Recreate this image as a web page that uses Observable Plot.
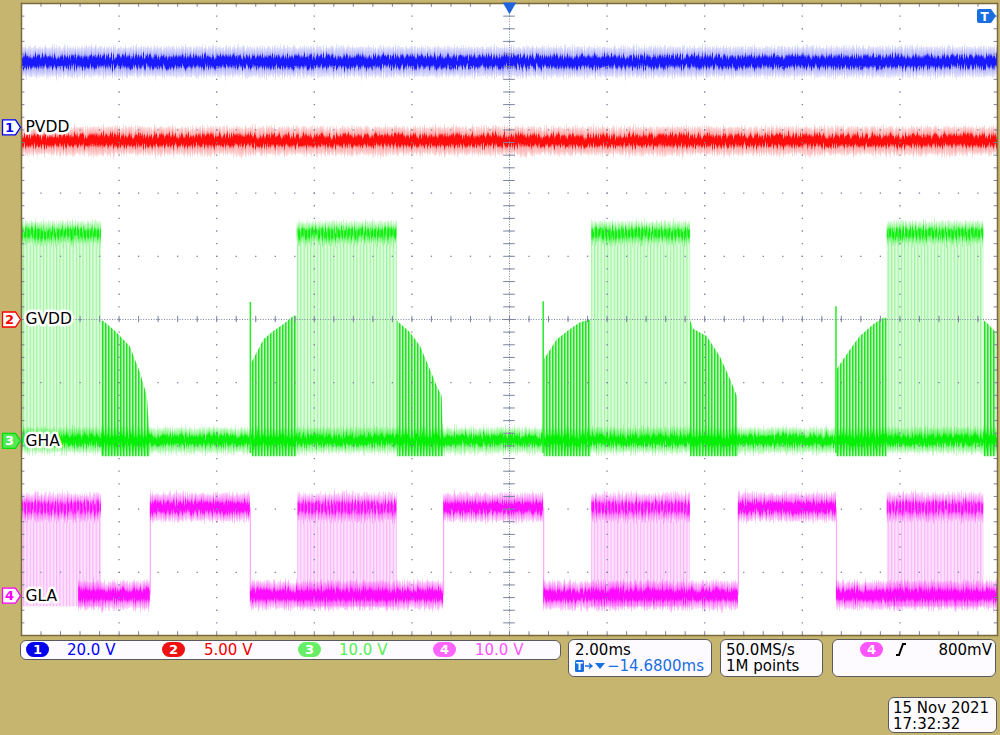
<!DOCTYPE html>
<html><head><meta charset="utf-8">
<script src="https://cdn.jsdelivr.net/npm/d3@7"></script>
<script src="https://cdn.jsdelivr.net/npm/@observablehq/plot@0.6"></script>
<style>
body{margin:0;background:#c6b56f;width:1000px;height:735px;overflow:hidden;font-family:"DejaVu Sans",sans-serif;position:relative}
#chart{position:absolute;left:0;top:0}
.box{position:absolute;background:#fdfbff;border:1px solid #5a5a5a;border-radius:6px;box-sizing:border-box}
.t{position:absolute;font-size:15px;line-height:16px;white-space:nowrap;color:#000}
.oval{position:absolute;width:23px;height:15px;border-radius:8px;color:#fff;font-weight:bold;font-size:13px;text-align:center;line-height:15px}
</style></head>
<body>
<svg width="0" height="0" style="position:absolute">
<defs>
  <linearGradient id="gBlue" x1="0" y1="0" x2="0" y2="1">
    <stop offset="0" stop-color="#0000ff" stop-opacity="0.08"/>
    <stop offset="0.25" stop-color="#0000ff" stop-opacity="0.3"/>
    <stop offset="0.36" stop-color="#0000ff" stop-opacity="0.9"/>
    <stop offset="0.64" stop-color="#0000ff" stop-opacity="0.9"/>
    <stop offset="0.75" stop-color="#0000ff" stop-opacity="0.3"/>
    <stop offset="1" stop-color="#0000ff" stop-opacity="0.08"/>
  </linearGradient>
  <linearGradient id="gRed" x1="0" y1="0" x2="0" y2="1">
    <stop offset="0" stop-color="#ff0000" stop-opacity="0.1"/>
    <stop offset="0.25" stop-color="#ff0000" stop-opacity="0.35"/>
    <stop offset="0.36" stop-color="#ff0000" stop-opacity="0.95"/>
    <stop offset="0.64" stop-color="#ff0000" stop-opacity="0.95"/>
    <stop offset="0.75" stop-color="#ff0000" stop-opacity="0.35"/>
    <stop offset="1" stop-color="#ff0000" stop-opacity="0.1"/>
  </linearGradient>
  <linearGradient id="gGreen" x1="0" y1="0" x2="0" y2="1">
    <stop offset="0" stop-color="#00ee00" stop-opacity="0.12"/>
    <stop offset="0.25" stop-color="#00ee00" stop-opacity="0.5"/>
    <stop offset="0.36" stop-color="#00ee00" stop-opacity="0.95"/>
    <stop offset="0.64" stop-color="#00ee00" stop-opacity="0.95"/>
    <stop offset="0.75" stop-color="#00ee00" stop-opacity="0.5"/>
    <stop offset="1" stop-color="#00ee00" stop-opacity="0.12"/>
  </linearGradient>
  <linearGradient id="gMag" x1="0" y1="0" x2="0" y2="1">
    <stop offset="0" stop-color="#ff00ff" stop-opacity="0.12"/>
    <stop offset="0.25" stop-color="#ff00ff" stop-opacity="0.5"/>
    <stop offset="0.36" stop-color="#ff00ff" stop-opacity="0.95"/>
    <stop offset="0.64" stop-color="#ff00ff" stop-opacity="0.95"/>
    <stop offset="0.75" stop-color="#ff00ff" stop-opacity="0.5"/>
    <stop offset="1" stop-color="#ff00ff" stop-opacity="0.12"/>
  </linearGradient>
  <pattern id="pGreen" width="3.3" height="10" patternUnits="userSpaceOnUse">
    <rect width="3.3" height="10" fill="#dafcda"/>
    <rect width="1.1" height="10" fill="#9cf49c"/>
  </pattern>
  <pattern id="pGreenDense" width="3" height="10" patternUnits="userSpaceOnUse">
    <rect width="3" height="10" fill="#c4f7c4"/>
    <rect width="1.5" height="10" fill="#20e420"/>
  </pattern>
  <pattern id="pMag" width="3.3" height="10" patternUnits="userSpaceOnUse">
    <rect width="3.3" height="10" fill="#fde2fd"/>
    <rect width="1.1" height="10" fill="#fbb2fb"/>
  </pattern>
  <pattern id="pWhite" width="3.3" height="10" patternUnits="userSpaceOnUse">
    <rect width="1" height="10" fill="#ffffff" fill-opacity="0.4"/>
  </pattern>
  <filter id="fuzz" filterUnits="userSpaceOnUse" x="0" y="0" width="1000" height="640" color-interpolation-filters="sRGB">
    <feTurbulence type="fractalNoise" baseFrequency="0.9 0.04" numOctaves="2" seed="4" result="t"/>
    <feColorMatrix in="t" type="matrix" values="1 0 0 0 0  0 0 0 0 0  0 0 0 0 0.5  0 0 0 0 1" result="t2"/>
    <feDisplacementMap in="SourceGraphic" in2="t2" scale="12" xChannelSelector="B" yChannelSelector="R"/>
  </filter>
</defs>
</svg>
<div id="chart"></div>
<script>
// ---------------- scope settings ----------------
const chNames = ["1", "2", "3", "4"];
const chLabels = ["PVDD", "GVDD", "GHA", "GLA"];
const chVoltsPerDiv = [20, 5, 10, 10];
const chOffsetDiv = [3.04, 0, -1.92, -4.37];
const screenMs = [0, 20];           // 10 div x 2.00 ms

// ---------------- series values (V, ms) ----------------
const pvddLevel = 20.6, pvddNoise = 4.7;
const gvddLevel = 14.1, gvddNoise = 1.1;
const ghaHigh = 32.8, ghaLow = 0, ghaNoise = 2.0;
const glaHigh = 13.9, glaLow = 0, glaNoise = 2.2;

const ghaBurstStart = [0, 5.65, 11.68, 17.74];
const ghaBurstEnd   = [1.64, 7.70, 13.71, 19.72];
const ghaSpikeT = [4.69, 10.69, 16.69];
const ghaSpikeV = [21.9, 22.0, 21.2];
const ghaDecayT = [
  [1.64, 1.69, 1.93, 2.23, 2.44, 2.58, 2.64],
  [7.70, 7.77, 7.97, 8.18, 8.38, 8.52, 8.62, 8.65],
  [13.71, 13.78, 14.05, 14.32, 14.53, 14.67, 14.69],
  [19.72, 19.79, 19.98]
];
const ghaDecayV = [
  [19.0, 18.9, 17.3, 14.9, 10.7, 7.0, 0],
  [19.0, 18.5, 17.1, 14.9, 11.2, 8.6, 7.0, 0],
  [19.0, 17.6, 16.5, 13.3, 9.7, 7.0, 0],
  [19.0, 18.6, 17.1]
];
const ghaRiseT = [
  [4.72, 4.97, 5.17, 5.38, 5.58, 5.65],
  [10.71, 10.98, 11.25, 11.45, 11.63, 11.68],
  [16.71, 16.99, 17.19, 17.47, 17.67, 17.74]
];
const ghaRiseV = [
  [12.3, 16.0, 17.3, 18.4, 19.7, 19.7],
  [12.8, 16.0, 17.6, 18.7, 19.1, 19.1],
  [11.2, 14.4, 16.5, 18.4, 19.4, 19.4]
];
const glaBurstStart = [0, 5.66, 11.68, 17.74];
const glaBurstEnd   = [1.64, 7.70, 13.71, 19.72];
const glaHighStart = [2.64, 8.65, 14.69];
const glaHighEnd   = [4.69, 10.70, 16.70];
const glaLowStart = [1.17, 4.69, 10.70, 16.70];
const glaLowEnd   = [2.64, 8.65, 14.69, 20];

// ---------------- styles ----------------
const gridColor = "#7d849e";
const chStroke = ["#0000ff", "#ff0000", "#00e000", "#ff00ff"];

const toDiv = (ch, v) => chOffsetDiv[ch] + v / chVoltsPerDiv[ch];
const band = (ch, x1, x2, level, noise) => ({x1, x2, y1: toDiv(ch, level - noise), y2: toDiv(ch, level + noise)});

// build tables
const blueBand = [band(0, screenMs[0], screenMs[1], pvddLevel, pvddNoise)];
const redBand = [band(1, screenMs[0], screenMs[1], gvddLevel, gvddNoise)];
const greenLow = [band(2, screenMs[0], screenMs[1], ghaLow, ghaNoise)];
const greenHigh = ghaBurstStart.map((s, i) => band(2, s, ghaBurstEnd[i], ghaHigh, ghaNoise * 0.9));
const greenFill = ghaBurstStart.map((s, i) => ({x1: s, x2: ghaBurstEnd[i], y1: toDiv(2, ghaLow), y2: toDiv(2, ghaHigh)}));
const ramps = [];
ghaDecayT.forEach((ts, k) => ts.forEach((t, j) => ramps.push({seg: "d" + k, t, y1: toDiv(2, ghaLow - 2.5), y2: toDiv(2, ghaDecayV[k][j])})));
ghaRiseT.forEach((ts, k) => ts.forEach((t, j) => ramps.push({seg: "r" + k, t, y1: toDiv(2, ghaLow - 2.5), y2: toDiv(2, ghaRiseV[k][j])})));
const spikes = ghaSpikeT.map((t, i) => ({t, y1: toDiv(2, ghaLow - 2), y2: toDiv(2, ghaSpikeV[i])}));

const magHigh = [
  ...glaBurstStart.map((s, i) => ({...band(3, s, glaBurstEnd[i], glaHigh, glaNoise), burst: true})),
  ...glaHighStart.map((s, i) => ({...band(3, s, glaHighEnd[i], glaHigh, glaNoise), burst: false}))
];
const magLow = glaLowStart.map((s, i) => band(3, s, glaLowEnd[i], glaLow, glaNoise));
const magFill = glaBurstStart.map((s, i) => ({x1: s, x2: glaBurstEnd[i], y1: toDiv(3, glaLow - glaNoise * 0.8), y2: toDiv(3, glaHigh)}));
const magEdges = [...glaHighStart, ...glaHighEnd].map(t => ({t, y1: toDiv(3, glaLow), y2: toDiv(3, glaHigh)}));

// grid
const majorX = d3.range(0, 20.001, 2);
const minorX = d3.range(0, 20.001, 0.4);
const majorY = d3.range(-5, 5.001, 1);
const minorY = d3.range(-5, 5.001, 0.2);
const gridDots = [];
majorX.forEach(x => minorY.forEach(y => gridDots.push({x, y})));
minorX.forEach(x => majorY.forEach(y => gridDots.push({x, y})));

// channel markers
const markers = chNames.map((n, i) => ({n, label: chLabels[i], y: chOffsetDiv[i], i}));
const pentagon = {
  draw(ctx, size) {
    const s = Math.sqrt(size / Math.PI) / 8;
    ctx.moveTo(-9 * s, -7.5 * s); ctx.lineTo(4 * s, -7.5 * s); ctx.lineTo(9 * s, 0);
    ctx.lineTo(4 * s, 7.5 * s); ctx.lineTo(-9 * s, 7.5 * s); ctx.closePath();
  }
};

const plot = Plot.plot({
  width: 1000, height: 640,
  marginLeft: 21, marginRight: 3, marginTop: 3, marginBottom: 5,
  x: {domain: screenMs, axis: null},
  y: {domain: [-5, 5], axis: null},
  style: {background: "transparent", overflow: "visible"},
  marks: [
    Plot.frame({fill: "#ffffff", stroke: null}),
    // green PWM region + ramps
    Plot.rect(greenFill, {x1: "x1", x2: "x2", y1: "y1", y2: "y2", fill: "url(#pGreen)"}),
    Plot.areaY(ramps, {x: "t", y1: "y1", y2: "y2", z: "seg", fill: "url(#pGreenDense)", curve: "linear"}),
    // magenta PWM region
    Plot.rect(magFill, {x1: "x1", x2: "x2", y1: "y1", y2: "y2", fill: "url(#pMag)"}),
    Plot.ruleX(magEdges, {x: "t", y1: "y1", y2: "y2", stroke: "#ffa6ff", strokeWidth: 1.2}),
    // bands
    Plot.rect(blueBand, {x1: "x1", x2: "x2", y1: "y1", y2: "y2", fill: "url(#gBlue)"}),
    Plot.rect(redBand, {x1: "x1", x2: "x2", y1: "y1", y2: "y2", fill: "url(#gRed)"}),
    Plot.rect(greenLow, {x1: "x1", x2: "x2", y1: "y1", y2: "y2", fill: "url(#gGreen)"}),
    Plot.rect(greenHigh, {x1: "x1", x2: "x2", y1: "y1", y2: "y2", fill: "url(#gGreen)"}),
    Plot.rect(greenHigh, {x1: "x1", x2: "x2", y1: "y1", y2: "y2", fill: "url(#pWhite)"}),
    Plot.ruleX(spikes, {x: "t", y1: "y1", y2: "y2", stroke: "#22ee22", strokeWidth: 1.5}),
    Plot.rect(magLow, {x1: "x1", x2: "x2", y1: "y1", y2: "y2", fill: "url(#gMag)"}),
    Plot.rect(magHigh, {x1: "x1", x2: "x2", y1: "y1", y2: "y2", fill: "url(#gMag)"}),
    Plot.rect(magHigh.filter(d => d.burst), {x1: "x1", x2: "x2", y1: "y1", y2: "y2", fill: "url(#pWhite)"}),
    // grid on top
    Plot.dot(gridDots, {x: "x", y: "y", r: 0.75, symbol: "square", fill: gridColor, stroke: null}),
    Plot.ruleX([10], {stroke: gridColor, strokeDasharray: "1,1.6", strokeWidth: 1}),
    Plot.ruleY([0], {stroke: gridColor, strokeDasharray: "1,1.6", strokeWidth: 1}),
    Plot.ruleX(minorX, {x: d => d, y1: -0.05, y2: 0.05, stroke: gridColor}),
    Plot.ruleY(minorY, {y: d => d, x1: 9.88, x2: 10.12, stroke: gridColor}),
    Plot.ruleX(minorX, {x: d => d, y1: 5, y2: 4.94, stroke: gridColor}),
    Plot.ruleX(minorX, {x: d => d, y1: -5, y2: -4.94, stroke: gridColor}),
    Plot.ruleY(minorY, {y: d => d, x1: 0, x2: 0.07, stroke: gridColor}),
    Plot.ruleY(minorY, {y: d => d, x1: 19.93, x2: 20, stroke: gridColor}),
    Plot.frame({stroke: "#7b6a3c", strokeWidth: 1.5}),
    // trigger position
    Plot.dot([10], {x: d => d, y: 5, symbol: "triangle", rotate: 180, r: 5, fill: "#1f63dd", stroke: null, dy: 3}),
    // channel markers
    Plot.dot(markers, {x: 0, y: "y", symbol: pentagon, r: 8, dx: -10,
      fill: d => d.i === 2 ? "#55e855" : "#ffffff", stroke: d => chStroke[d.i], strokeWidth: 1.3}),
    Plot.text(markers, {x: 0, y: "y", text: "n", dx: -12, fontSize: 13, fontWeight: "bold",
      fill: d => d.i === 2 ? "#ffffff" : chStroke[d.i], fontFamily: "DejaVu Sans"}),
    Plot.text(markers, {x: 0, y: "y", text: "label", dx: 4, textAnchor: "start", fontSize: 15.5,
      fill: "#000", stroke: "#fff", strokeWidth: 5, fontFamily: "DejaVu Sans"})
  ]
});
// noisy trace look: displace gradient-filled band groups vertically
d3.select(plot).selectAll("g, rect").filter(function () {
  const f = this.getAttribute("fill") || "";
  return f.startsWith("url(#g");
}).attr("filter", "url(#fuzz)");
document.getElementById("chart").appendChild(plot);
</script>

<!-- trigger level icon -->
<svg style="position:absolute;left:976px;top:8px" width="22" height="17">
  <path d="M1 3 Q1 1 3 1 H15 L20 8 L15 15 H3 Q1 15 1 13 Z" fill="#1a6fe0"/>
  <text x="8.5" y="13" text-anchor="middle" font-family="DejaVu Sans" font-weight="bold" font-size="12" fill="#fff">T</text>
</svg>

<!-- channel scale readout -->
<div class="box" style="left:20px;top:640px;width:541px;height:20px"></div>
<div class="oval" style="left:26px;top:642px;background:#0000ee">1</div>
<div class="t" style="left:67px;top:642px;color:#0000ff">20.0 V</div>
<div class="oval" style="left:162px;top:642px;background:#ee1111">2</div>
<div class="t" style="left:204px;top:642px;color:#ee0000">5.00 V</div>
<div class="oval" style="left:298px;top:642px;background:#66ee66">3</div>
<div class="t" style="left:339px;top:642px;color:#55ee55">10.0 V</div>
<div class="oval" style="left:433px;top:642px;background:#ff66ff">4</div>
<div class="t" style="left:475px;top:642px;color:#ff55ff">10.0 V</div>

<div class="box" style="left:568px;top:639px;width:144px;height:38px"></div>
<div class="t" style="left:575px;top:642px">2.00ms</div>
<svg style="position:absolute;left:574px;top:659px" width="34" height="14">
  <rect x="1" y="1" width="9" height="12" rx="1.5" fill="#1a6fe0"/>
  <text x="5.5" y="11" text-anchor="middle" font-family="DejaVu Sans" font-weight="bold" font-size="10" fill="#fff">T</text>
  <path d="M11 7 H18 M15 4.5 L18 7 L15 9.5" stroke="#1a6fe0" stroke-width="1.4" fill="none"/>
  <path d="M21 4 H31 L26 10 Z" fill="#1a6fe0"/>
</svg>
<div class="t" style="left:607px;top:658px;color:#1a6fe0">−14.6800ms</div>

<div class="box" style="left:720px;top:639px;width:103px;height:38px"></div>
<div class="t" style="left:726px;top:642px">50.0MS/s</div>
<div class="t" style="left:726px;top:658px">1M points</div>

<div class="box" style="left:832px;top:639px;width:164px;height:38px"></div>
<div class="oval" style="left:860px;top:642px;background:#ff55ff">4</div>
<svg style="position:absolute;left:895px;top:642px" width="12" height="15">
  <path d="M1 13 H4 L8 2 H11" stroke="#000" stroke-width="2" fill="none"/>
</svg>
<div class="t" style="right:8px;top:642px">800mV</div>

<div class="box" style="left:888px;top:697px;width:109px;height:36px"></div>
<div class="t" style="left:893px;top:700px">15 Nov 2021</div>
<div class="t" style="left:893px;top:716px">17:32:32</div>
</body></html>
